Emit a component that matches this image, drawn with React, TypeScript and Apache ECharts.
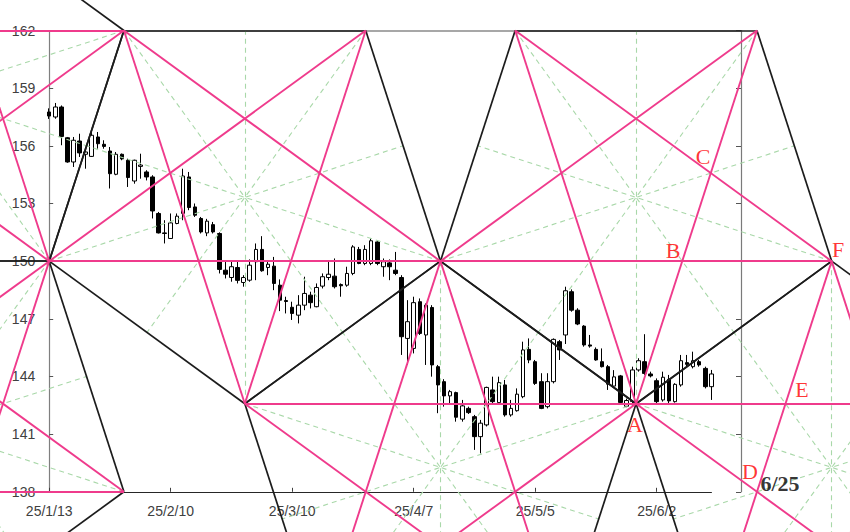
import React, { useEffect, useRef } from "react";
import * as echarts from "echarts";

// Trading days (weekdays) 2025/1/13 .. 2025/6/13
const dates = [
  "25/1/13","25/1/14","25/1/15","25/1/16","25/1/17","25/1/20","25/1/21","25/1/22","25/1/23","25/1/24",
  "25/1/27","25/1/28","25/1/29","25/1/30","25/1/31","25/2/3","25/2/4","25/2/5","25/2/6","25/2/7",
  "25/2/10","25/2/11","25/2/12","25/2/13","25/2/14","25/2/17","25/2/18","25/2/19","25/2/20","25/2/21",
  "25/2/24","25/2/25","25/2/26","25/2/27","25/2/28","25/3/3","25/3/4","25/3/5","25/3/6","25/3/7",
  "25/3/10","25/3/11","25/3/12","25/3/13","25/3/14","25/3/17","25/3/18","25/3/19","25/3/20","25/3/21",
  "25/3/24","25/3/25","25/3/26","25/3/27","25/3/28","25/3/31","25/4/1","25/4/2","25/4/3","25/4/4",
  "25/4/7","25/4/8","25/4/9","25/4/10","25/4/11","25/4/14","25/4/15","25/4/16","25/4/17","25/4/18",
  "25/4/21","25/4/22","25/4/23","25/4/24","25/4/25","25/4/28","25/4/29","25/4/30","25/5/1","25/5/2",
  "25/5/5","25/5/6","25/5/7","25/5/8","25/5/9","25/5/12","25/5/13","25/5/14","25/5/15","25/5/16",
  "25/5/19","25/5/20","25/5/21","25/5/22","25/5/23","25/5/26","25/5/27","25/5/28","25/5/29","25/5/30",
  "25/6/2","25/6/3","25/6/4","25/6/5","25/6/6","25/6/9","25/6/10","25/6/11","25/6/12","25/6/13",
];

const opens = [
  157.76,157.50,158.02,156.42,155.16,156.25,155.56,155.45,156.46,156.08,
  155.73,154.52,155.56,155.25,154.17,154.93,154.64,154.38,152.48,151.47,
  151.18,151.96,152.48,154.38,152.82,152.22,151.47,151.90,151.44,149.53,
  149.15,149.67,148.89,149.01,149.97,150.61,149.67,149.74,148.75,147.95,
  147.60,147.19,147.71,148.23,147.63,148.70,149.15,149.22,148.78,148.75,
  149.36,150.61,149.88,149.88,151.00,149.71,149.91,149.53,149.15,145.98,
  145.46,147.89,146.16,147.59,144.51,143.73,142.99,143.16,141.78,142.34,
  141.91,140.87,141.48,143.30,142.64,143.56,142.00,142.22,142.95,145.41,
  144.77,143.73,142.43,143.73,145.81,146.16,148.41,147.45,146.62,145.64,
  145.41,144.77,144.51,143.50,144.03,142.45,142.70,144.34,144.77,144.13,
  143.78,142.78,143.85,142.69,143.56,144.72,144.51,144.77,144.42,143.47,
];

const closes = [
  157.55,158.02,156.49,155.16,156.29,155.63,155.68,156.55,156.11,155.97,
  154.55,155.56,155.32,154.35,155.25,155.00,154.38,152.61,151.47,151.44,
  151.99,152.34,154.43,152.79,152.39,151.52,152.08,151.52,149.57,149.32,
  149.71,149.00,149.15,149.79,150.61,149.50,149.84,148.84,147.97,147.90,
  147.28,147.71,148.32,147.84,148.63,149.19,149.32,148.67,148.72,149.36,
  150.74,149.88,150.61,151.06,149.88,149.97,149.71,149.36,146.07,146.85,
  147.84,146.24,147.71,144.60,143.56,142.99,143.21,141.88,142.47,142.12,
  140.87,141.57,143.43,142.69,143.68,142.00,142.34,143.08,145.38,144.86,
  143.64,142.34,143.73,145.93,145.38,148.46,147.45,146.73,145.64,145.58,
  144.86,144.51,143.60,143.98,142.65,142.75,144.34,144.82,144.16,144.03,
  142.69,143.96,142.73,143.59,144.82,144.63,144.82,144.60,143.47,144.13,
];

const lows = [
  157.40,157.41,156.03,155.12,154.90,155.42,154.81,155.42,155.85,155.85,
  153.78,154.47,155.25,153.86,154.03,154.29,154.20,152.22,151.44,150.92,
  151.18,151.92,152.13,152.65,152.30,151.44,151.30,151.44,149.36,149.10,
  148.93,148.84,148.67,148.93,149.01,149.45,149.27,148.49,147.40,147.28,
  146.94,146.76,147.45,147.54,147.60,148.58,149.01,148.58,148.15,148.67,
  149.27,149.84,149.79,149.79,149.79,149.19,149.01,149.27,145.12,144.60,
  145.20,146.16,144.60,143.99,142.09,142.43,142.60,141.65,141.65,142.05,
  140.18,140.00,141.40,142.52,142.52,141.91,141.91,142.17,142.87,144.69,
  143.56,142.30,142.34,143.64,144.86,145.69,147.37,146.67,145.55,145.50,
  144.82,144.47,143.30,143.40,142.52,142.40,142.43,144.25,144.08,143.95,
  142.52,142.69,142.60,142.64,143.47,144.51,144.42,144.51,143.38,142.78,
];

const highs = [
  157.95,158.23,158.10,156.46,156.46,156.63,155.94,156.81,156.72,156.29,
  155.94,155.68,155.60,155.33,155.28,155.59,154.73,154.47,152.56,152.13,
  152.48,152.48,154.81,154.64,153.00,152.30,152.20,152.04,151.50,150.05,
  149.97,149.97,149.27,150.09,150.92,151.30,150.05,150.22,149.05,148.15,
  147.89,148.23,149.19,148.41,148.84,149.36,149.97,150.14,148.84,149.71,
  150.83,150.74,150.83,151.18,151.09,150.14,150.09,150.48,149.27,147.97,
  148.15,148.06,147.80,147.71,144.60,143.86,143.30,143.21,142.78,142.43,
  142.00,141.74,143.47,143.99,143.99,143.82,142.78,143.38,145.81,145.98,
  144.86,144.17,144.17,145.98,145.90,148.67,148.53,147.55,146.67,146.16,
  145.51,145.46,144.60,144.33,144.08,142.85,144.51,144.95,146.20,144.25,
  143.90,144.25,144.08,143.65,145.12,145.12,145.29,144.86,144.51,144.34,
];

// Price axis
const priceMin = 138;
const priceMax = 162;
const priceStep = 3;
const labelEvery = 20; // trading days between date labels

// Pentagon vertices as [trading-day index, price], in cyclic order
const pentUpperLeft = [[-19.9, 169.416], [12.3, 162], [0, 150], [-39.8, 150], [-52.1, 162]];
const pentLowerLeft = [[0, 150], [12.3, 138], [-19.9, 130.584], [-52.1, 138], [-39.8, 150]];
const pentFirst = [[52.1, 162], [64.4, 150], [32.2, 142.584], [0, 150], [12.3, 162]];
const pentMiddleLow = [[64.4, 150], [96.6, 142.584], [84.3, 130.584], [44.5, 130.584], [32.2, 142.584]];
const pentSecond = [[116.5, 162], [128.8, 150], [96.6, 142.584], [64.4, 150], [76.7, 162]];
const pentRightLow = [[128.8, 150], [161, 142.584], [148.7, 130.584], [108.9, 130.584], [96.6, 142.584]];

// Annotations
const markTexts = ["A", "B", "C", "D", "E", "F"];
const markDays = [96.42, 102.69, 107.63, 115.36, 123.92, 129.84];
const markPrices = [141.48, 150.58, 155.42, 139.08, 143.30, 150.63];
const dateNote = "6/25";
const dateNoteDay = 120.3;
const dateNotePrice = 138.41;

// Layout (pixels)
const W = 850;
const H = 532;
const plotLeft = 49.2;
const plotTop = 30.5;
const plotHeight = 461.3;
const candleWidth = 662.2;
const frameWidth = 691.8;

export default function App() {
  const ref = useRef<HTMLDivElement>(null);

  useEffect(() => {
    if (!ref.current) return;
    const chart = echarts.init(ref.current, undefined, { renderer: "svg" });

    const dayPx = candleWidth / (dates.length - 1);
    const pricePx = plotHeight / (priceMax - priceMin);
    const ovXMin = -plotLeft / dayPx;
    const ovXMax = (W - plotLeft) / dayPx;
    const ovYMax = priceMax + plotTop / pricePx;
    const ovYMin = priceMax - (H - plotTop) / pricePx;

    const pentagons = [pentUpperLeft, pentLowerLeft, pentFirst, pentMiddleLow, pentSecond, pentRightLow];
    const edges: any[] = [];
    const diags: any[] = [];
    const axes: any[] = [];
    for (const p of pentagons) {
      for (let i = 0; i < 5; i++) {
        const v = p[i];
        const n1 = p[(i + 1) % 5];
        const n2 = p[(i + 2) % 5];
        const n3 = p[(i + 3) % 5];
        edges.push({ coords: [v, n1] });
        diags.push({ coords: [v, n2] });
        axes.push({ coords: [v, [(n2[0] + n3[0]) / 2, (n2[1] + n3[1]) / 2]] });
      }
    }

    const candleData = dates.map((_, i) => [opens[i], closes[i], lows[i], highs[i]]);

    const option: any = {
      animation: false,
      backgroundColor: "#ffffff",
      grid: [
        { left: plotLeft, top: plotTop, width: candleWidth, height: plotHeight, containLabel: false },
        { left: plotLeft, top: plotTop, width: frameWidth, height: plotHeight, containLabel: false },
        { left: 0, top: 0, width: W, height: H, containLabel: false },
      ],
      xAxis: [
        {
          type: "category",
          gridIndex: 0,
          data: dates,
          boundaryGap: false,
          axisLine: { show: true, lineStyle: { color: "#262626", width: 1.2 } },
          axisTick: { show: true, inside: true, length: 4, interval: labelEvery - 1, lineStyle: { color: "#404040" } },
          axisLabel: {
            interval: labelEvery - 1,
            margin: 12,
            fontSize: 14,
            color: "#404040",
            fontFamily: "Liberation Sans",
          },
          splitLine: { show: false },
        },
        {
          type: "value",
          gridIndex: 1,
          position: "top",
          min: 0,
          max: 1,
          axisLine: { show: true, onZero: false, lineStyle: { color: "#8a8a8a", width: 1.5 } },
          axisTick: { show: false },
          axisLabel: { show: false },
          splitLine: { show: false },
        },
        {
          type: "value",
          gridIndex: 2,
          min: ovXMin,
          max: ovXMax,
          show: false,
          splitLine: { show: false },
        },
      ],
      yAxis: [
        {
          type: "value",
          gridIndex: 0,
          min: priceMin,
          max: priceMax,
          interval: priceStep,
          axisLine: { show: true, lineStyle: { color: "#7f7f7f", width: 1.2 } },
          axisTick: { show: true, inside: true, length: 4, lineStyle: { color: "#555" } },
          axisLabel: { margin: 14, fontSize: 14, color: "#404040", fontFamily: "Liberation Sans" },
          splitLine: { show: false },
        },
        {
          type: "value",
          gridIndex: 1,
          position: "right",
          min: priceMin,
          max: priceMax,
          interval: priceStep,
          axisLine: { show: true, onZero: false, lineStyle: { color: "#7a7a7a", width: 1.2 } },
          axisTick: { show: true, inside: true, length: 5, lineStyle: { color: "#555" } },
          axisLabel: { show: false },
          splitLine: { show: false },
        },
        {
          type: "value",
          gridIndex: 2,
          min: ovYMin,
          max: ovYMax,
          show: false,
          splitLine: { show: false },
        },
      ],
      series: [
        {
          type: "candlestick",
          xAxisIndex: 0,
          yAxisIndex: 0,
          data: candleData,
          barWidth: 4,
          clip: false,
          z: 2,
          itemStyle: {
            color: "#ffffff",
            color0: "#000000",
            borderColor: "#000000",
            borderColor0: "#000000",
            borderWidth: 1,
          },
          silent: true,
        },
        {
          type: "lines",
          coordinateSystem: "cartesian2d",
          xAxisIndex: 2,
          yAxisIndex: 2,
          data: axes,
          silent: true,
          z: 3,
          lineStyle: { color: "#a9d8a9", width: 1.1, type: [5, 4], opacity: 1 },
        },
        {
          type: "lines",
          coordinateSystem: "cartesian2d",
          xAxisIndex: 2,
          yAxisIndex: 2,
          data: edges,
          silent: true,
          z: 4,
          lineStyle: { color: "#1c1c1c", width: 1.7, opacity: 1 },
        },
        {
          type: "lines",
          coordinateSystem: "cartesian2d",
          xAxisIndex: 2,
          yAxisIndex: 2,
          data: diags,
          silent: true,
          z: 5,
          lineStyle: { color: "#ef3b8c", width: 1.9, opacity: 1 },
        },
        {
          type: "scatter",
          xAxisIndex: 2,
          yAxisIndex: 2,
          symbolSize: 1,
          itemStyle: { color: "rgba(0,0,0,0)" },
          silent: true,
          z: 6,
          data: markTexts.map((t, i) => ({ name: t, value: [markDays[i], markPrices[i]] })),
          label: {
            show: true,
            position: "inside",
            formatter: "{b}",
            color: "#ff0000",
            fontSize: 22,
            fontFamily: "Liberation Serif",
          },
        },
        {
          type: "scatter",
          xAxisIndex: 2,
          yAxisIndex: 2,
          symbolSize: 1,
          itemStyle: { color: "rgba(0,0,0,0)" },
          silent: true,
          z: 6,
          data: [{ name: dateNote, value: [dateNoteDay, dateNotePrice] }],
          label: {
            show: true,
            position: "inside",
            formatter: "{b}",
            color: "#000000",
            fontSize: 22,
            fontWeight: "bold",
            fontFamily: "Liberation Serif",
          },
        },
      ],
    };

    chart.setOption(option);
    return () => chart.dispose();
  }, []);

  return (
    <div
      ref={ref}
      style={{ position: "fixed", left: 0, top: 0, width: W, height: H, background: "#fff" }}
    />
  );
}
